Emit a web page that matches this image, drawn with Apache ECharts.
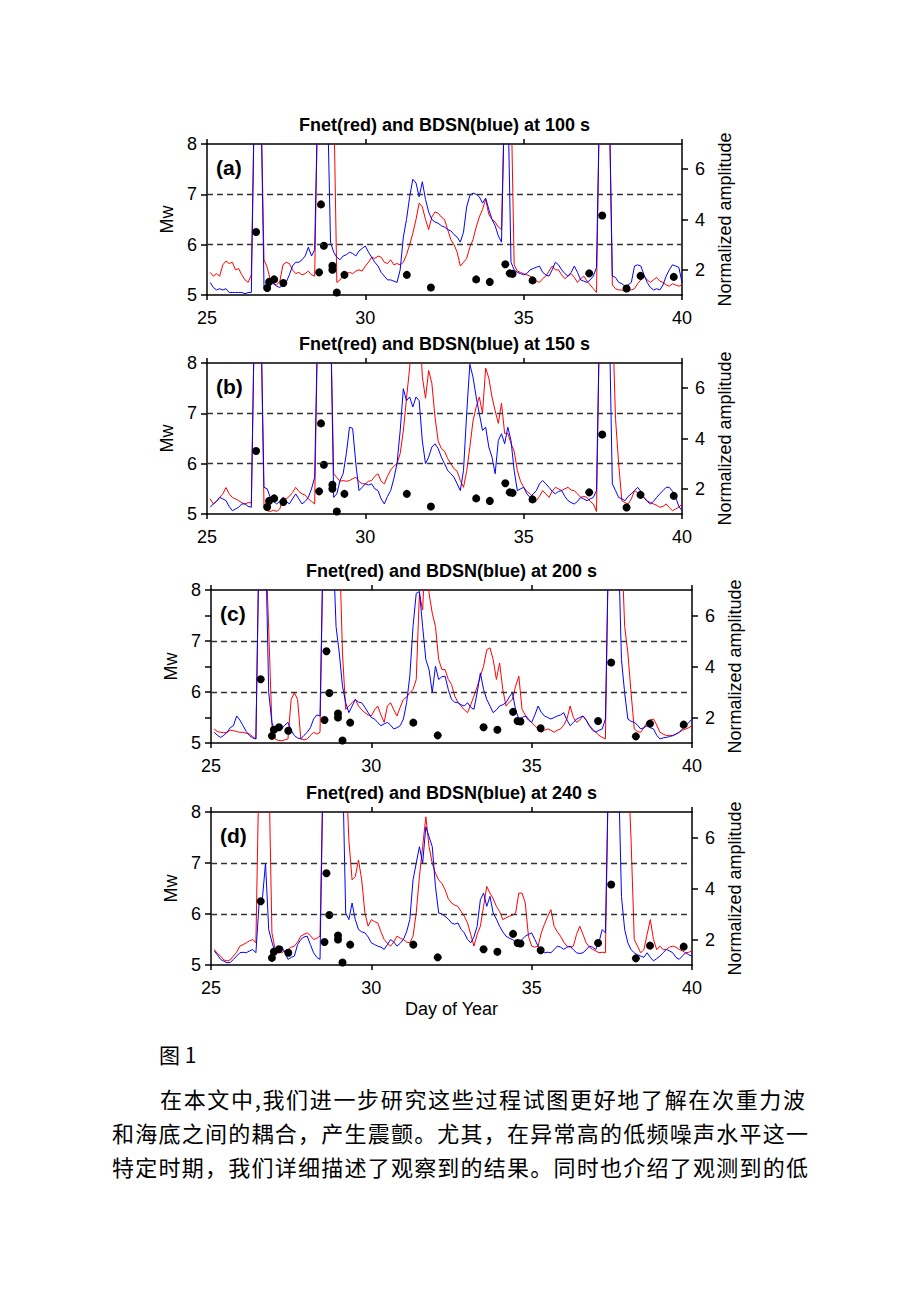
<!DOCTYPE html>
<html>
<head>
<meta charset="utf-8">
<title>Fnet and BDSN</title>
<script src="https://cdn.jsdelivr.net/npm/echarts@6.0.0/dist/echarts.min.js"></script>
<style>
  body { margin: 0; background: #fff; }
  #page { position: relative; width: 920px; height: 1302px; }
  #chart { position: absolute; left: 0; top: 0; width: 920px; height: 1302px; }
  .txt {
    position: absolute;
    font-family: "Noto Sans CJK SC", sans-serif;
    color: #000;
    white-space: nowrap;
    text-align: justify;
    text-align-last: justify;
  }
</style>
</head>
<body>
<div id="page">
  <div id="chart"></div>
  <div class="txt" style="left:159px;top:1040px;font-size:21px;line-height:28px;text-align-last:left;">图 1</div>
  <div class="txt" style="left:160px;top:1084px;width:645px;font-size:22px;line-height:28px;">在本文中,我们进一步研究这些过程试图更好地了解在次重力波</div>
  <div class="txt" style="left:112px;top:1118px;width:696px;font-size:22px;line-height:28px;">和海底之间的耦合，产生震颤。尤其，在异常高的低频噪声水平这一</div>
  <div class="txt" style="left:112px;top:1152px;width:696px;font-size:22px;line-height:28px;">特定时期，我们详细描述了观察到的结果。同时也介绍了观测到的低</div>
</div>
<script>
// earthquakes (day of year, Mw) - same in every panel
const quakeDay = [26.55, 26.9, 26.96, 27.12, 27.41, 28.54, 28.6, 28.69, 28.96, 28.96, 29.1, 29.34,
  31.31, 32.07, 33.5, 33.93, 34.42, 34.56, 34.65, 35.28, 37.07, 37.48, 38.25, 38.69, 39.74]
const quakeMw = [6.25, 5.14, 5.26, 5.31, 5.24, 5.45, 6.8, 5.98, 5.58, 5.5, 5.05, 5.4,
  5.4, 5.15, 5.31, 5.26, 5.61, 5.43, 5.42, 5.29, 5.43, 6.58, 5.13, 5.38, 5.36]

// normalized amplitude, one sample every 0.1 day from 25.0 to 40.0 (one row per day)
// 9 = off the top of the plot
const redA = [
  null, 1.9, 1.75, 1.85, 1.75, 2.2, 2.35, 2.25, 2.3, 2.0,
  2.05, 1.8, 1.6, 1.5, 1.8, 9, 9, 9, 2.4, 2.1,
  1.6, 1.45, 1.4, 1.55, 2.2, 2.3, 2.25, 2.0, 1.85, 1.9,
  1.8, 1.85, 1.95, 1.8, 1.75, 9, 9, 9, 9, 9,
  9, 1.5, 1.6, 1.8, 1.85, 1.9, 1.85, 1.95, 2.0, 1.95,
  2.15, 2.3, 2.5, 2.45, 2.55, 2.5, 2.3, 2.25, 2.4, 2.2,
  2.25, 2.2, 2.3, 2.6, 3.0, 3.45, 4.0, 4.65, 4.5, 4.0,
  3.6, 4.1, 4.3, 4.25, 4.1, 4.0, 3.6, 3.2, 3.0, 2.7,
  2.15, 2.3, 2.45, 2.9, 3.2, 3.7, 4.1, 4.4, 4.8, 4.2,
  4.0, 3.9, 3.7, 3.6, 9, 9, 9, 2.2, 1.95, 1.9,
  1.85, 1.8, 1.75, 1.65, 1.55, 1.5, 1.65, 1.75, 1.95, 2.15,
  2.0, 2.0, 1.8, 1.65, 1.75, 1.85, 1.7, 1.5, 1.65, 1.75,
  1.55, 1.4, 1.25, 1.1, 9, 9, 9, 9, 1.4, 1.25,
  1.2, 1.2, 1.15, 1.2, 1.2, 1.25, 1.45, 1.6, 1.75, 1.6,
  1.5, 1.6, 1.7, 1.55, 1.5, 1.4, 1.35, 1.45, 1.4, 1.35,
  1.4]
const blueA = [
  null, 1.5, 1.3, 1.2, 1.25, 1.2, 1.25, 1.1, 1.1, 1.1,
  1.1, 1.1, 1.05, 1.1, 1.1, 9, 9, 9, 1.3, 1.25,
  1.5, 1.45, 1.35, 1.3, 1.4, 1.5, 1.8, 2.15, 2.3, 2.3,
  2.4, 2.55, 2.9, 2.55, 2.8, 9, 9, 9, 9, 3.1,
  2.7, 2.5, 2.4, 2.55, 2.6, 2.7, 2.65, 2.55, 2.75, 2.85,
  2.95, 2.7, 2.5, 2.3, 2.15, 1.9, 1.75, 1.6, 1.6, 1.55,
  1.5, 2.0, 3.3, 4.0, 4.9, 5.6, 5.45, 4.9, 5.5, 4.8,
  4.3, 4.0, 3.9, 3.85, 3.75, 3.7, 3.6, 3.55, 3.4, 3.3,
  3.1, 3.5, 4.5, 4.95, 5.05, 5.0, 4.9, 4.65, 4.85, 4.4,
  4.0, 3.75, 3.35, 3.1, 9, 9, 2.3, 2.0, 1.9, 1.85,
  1.8, 1.85, 2.0, 2.05, 2.1, 2.15, 1.9, 1.8, 1.75, 2.0,
  2.3, 2.2, 2.0, 1.85, 1.75, 1.9, 2.15, 1.9, 1.6, 1.55,
  1.5, 1.6, 1.75, 2.1, 9, 9, 9, 9, 1.75, 1.7,
  1.5, 1.45, 1.35, 1.4, 1.5, 2.15, 2.2, 2.15, 1.8, 1.5,
  1.3, 1.2, 1.25, 1.2, 1.4, 1.75, 2.0, 2.2, 2.15, 2.1,
  1.5]
const redB = [
  null, 1.6, 1.4, 1.5, 1.66, 1.8, 2.05, 1.8, 1.66, 1.6,
  1.53, 1.45, 1.4, 1.45, 1.45, 9, 9, 9, 1.3, 1.13,
  1.1, 1.15, 1.1, 1.2, 1.66, 1.6, 1.7, 1.85, 2.06, 1.9,
  1.8, 1.75, 1.6, 1.5, 1.4, 9, 9, 9, 9, 9,
  2.6, 2.45, 2.3, 2.33, 2.3, 2.33, 2.4, 2.46, 2.3, 2.2,
  2.2, 2.3, 2.33, 2.5, 2.6, 2.3, 2.2, 2.5, 2.75, 2.9,
  3.0, 3.4, 4.3, 5.6, 6.8, 9, 9, 9, 6.45, 5.6,
  6.7, 6.2, 4.85, 3.9, 3.6, 3.5, 3.2, 3.0, 2.8, 2.7,
  2.33, 2.06, 2.7, 3.65, 4.7, 5.25, 5.65, 5.0, 6.8, 6.4,
  5.65, 5.1, 4.6, 5.4, 4.2, 4.2, 3.8, 3.5, 2.73, 2.3,
  2.06, 1.9, 1.8, 1.65, 1.53, 1.7, 1.93, 1.8, 1.66, 1.9,
  2.06, 2.0, 1.93, 2.0, 2.06, 1.95, 1.93, 1.8, 1.66, 1.7,
  1.66, 1.5, 1.4, 1.1, 9, 9, 9, 9, 9, 4.8,
  3.0, 1.53, 1.45, 1.4, 1.6, 1.93, 1.85, 1.8, 1.65, 1.53,
  1.45, 1.4, 1.35, 1.27, 1.3, 1.4, 1.25, 1.13, 1.2, 1.27,
  1.4]
const blueB = [
  null, 1.27, 1.4, 1.5, 1.66, 1.6, 1.53, 1.3, 1.13, 1.2,
  1.27, 1.4, 1.4, 1.3, 1.27, 9, 9, 9, 2.06, 2.0,
  1.66, 1.5, 1.4, 1.5, 1.66, 1.5, 1.4, 1.6, 1.8, 1.6,
  1.4, 1.5, 1.66, 2.0, 2.46, 9, 9, 9, 9, 9,
  1.66, 1.8, 2.33, 2.6, 3.4, 4.45, 4.4, 3.0, 1.93, 2.06,
  2.2, 2.15, 2.2, 2.0, 1.93, 1.6, 1.4, 1.7, 1.93, 2.4,
  3.0, 4.3, 5.98, 5.5, 5.65, 5.25, 5.65, 5.5, 3.9, 3.0,
  3.26, 3.66, 3.79, 3.6, 3.26, 3.0, 2.73, 2.6, 2.46, 2.2,
  1.93, 2.73, 4.98, 6.95, 6.44, 5.65, 4.98, 4.32, 4.45, 3.66,
  3.26, 2.6, 3.92, 4.19, 3.79, 4.45, 3.92, 2.73, 1.93, 2.0,
  2.06, 1.8, 1.66, 1.8, 1.93, 2.2, 2.33, 2.2, 2.06, 1.9,
  1.8, 1.9, 1.93, 1.7, 1.53, 1.45, 1.4, 1.5, 1.66, 1.6,
  1.53, 1.6, 1.66, 1.93, 9, 9, 9, 9, 2.2, 1.93,
  1.66, 1.6, 1.53, 1.7, 1.8, 1.93, 2.06, 1.9, 1.66, 1.5,
  1.4, 1.5, 1.66, 1.8, 1.93, 2.06, 2.06, 1.9, 1.66, 1.3,
  1.13]
const redC = [
  null, 1.55, 1.45, 1.42, 1.4, 1.42, 1.5, 1.48, 1.45, 1.42,
  1.42, 1.38, 1.35, 1.25, 1.16, 9, 9, 9, 5.44, 1.68,
  1.16, 1.1, 1.09, 1.12, 1.16, 2.71, 2.97, 2.71, 1.16, 1.12,
  1.16, 1.3, 1.42, 1.35, 1.42, 9, 9, 9, 9, 9,
  9, 4.53, 2.32, 2.45, 2.58, 2.71, 2.45, 2.3, 2.19, 2.1,
  2.06, 2.3, 2.45, 2.1, 1.81, 2.45, 2.58, 2.3, 2.06, 2.4,
  2.71, 2.8, 2.97, 3.1, 3.49, 6.87, 6.22, 9, 6.87, 6.09,
  5.57, 4.27, 3.88, 3.88, 3.49, 3.3, 2.84, 2.6, 2.45, 2.3,
  2.19, 2.5, 2.84, 3.2, 3.62, 4.01, 4.66, 4.73, 4.27, 3.49,
  4.14, 3.1, 2.45, 2.6, 2.71, 3.23, 3.62, 2.32, 2.1, 1.94,
  1.8, 1.68, 1.55, 1.42, 1.5, 1.55, 1.5, 1.42, 1.5, 1.55,
  1.7, 1.94, 2.45, 2.0, 1.81, 1.9, 2.06, 1.9, 1.68, 1.55,
  1.42, 1.3, 1.22, 1.16, 9, 9, 9, 9, 9, 5.57,
  4.53, 2.97, 1.55, 1.45, 1.42, 1.6, 1.81, 1.9, 1.94, 1.7,
  1.42, 1.35, 1.29, 1.3, 1.29, 1.35, 1.42, 1.5, 1.55, 1.6,
  1.68]
const blueC = [
  null, 1.42, 1.3, 1.22, 1.3, 1.42, 1.6, 1.68, 2.06, 1.9,
  1.68, 1.45, 1.29, 1.2, 1.16, 9, 9, 9, 2.97, 1.8,
  1.42, 1.5, 1.55, 1.7, 1.81, 1.5, 1.29, 1.2, 1.16, 1.3,
  1.42, 1.6, 1.94, 2.1, 2.06, 9, 9, 9, 9, 5.57,
  4.53, 3.23, 2.58, 2.19, 2.45, 2.71, 2.6, 2.58, 2.4, 2.19,
  2.0, 1.94, 1.8, 1.68, 1.75, 1.81, 1.7, 1.55, 1.6, 1.68,
  1.94, 2.58, 3.62, 5.57, 6.87, 6.94, 5.57, 4.27, 3.88, 2.97,
  4.01, 3.49, 3.6, 3.62, 3.1, 2.71, 2.6, 2.58, 2.5, 2.45,
  2.58, 2.4, 2.32, 2.97, 3.75, 3.1, 2.71, 2.45, 2.19, 2.3,
  2.45, 2.5, 2.58, 2.8, 2.97, 2.3, 1.94, 2.0, 2.06, 1.9,
  1.81, 2.1, 2.45, 2.2, 2.06, 2.0, 1.94, 2.0, 2.06, 2.1,
  2.19, 1.9, 1.68, 1.8, 1.94, 2.0, 2.06, 1.9, 1.68, 1.5,
  1.42, 1.5, 1.55, 1.94, 9, 9, 9, 9, 4.27, 2.97,
  1.94, 1.85, 1.81, 1.7, 1.55, 1.6, 1.68, 1.6, 1.55, 1.3,
  1.16, 1.2, 1.22, 1.25, 1.29, 1.35, 1.42, 1.55, 1.68, 1.8,
  1.94]
const redD = [
  null, 1.61, 1.45, 1.35, 1.2, 1.16, 1.2, 1.35, 1.5, 1.74,
  1.8, 1.87, 1.95, 2.0, 1.87, 9, 9, 9, 9, 2.26,
  1.61, 1.55, 1.48, 1.55, 1.61, 1.7, 1.74, 1.9, 2.13, 2.2,
  2.26, 2.15, 2.0, 2.05, 2.13, 9, 9, 9, 9, 9,
  9, 9, 9, 5.9, 4.34, 4.47, 5.12, 4.34, 3.04, 2.52,
  2.78, 2.7, 2.65, 2.3, 2.0, 1.85, 1.74, 1.9, 2.13, 2.05,
  2.0, 1.9, 1.87, 2.13, 3.04, 4.47, 5.64, 6.81, 5.64, 4.99,
  4.6, 4.34, 4.2, 3.95, 3.6, 3.43, 3.35, 3.3, 3.1, 2.91,
  2.65, 2.2, 1.74, 2.2, 2.52, 3.3, 4.08, 3.82, 3.6, 3.3,
  3.1, 2.78, 2.85, 2.91, 2.95, 3.04, 3.82, 3.82, 3.43, 2.13,
  1.74, 1.7, 1.74, 2.26, 2.6, 2.91, 3.17, 2.52, 2.3, 2.13,
  1.9, 1.74, 1.7, 1.74, 2.2, 2.52, 2.2, 1.87, 1.7, 1.61,
  1.55, 1.48, 1.5, 1.48, 9, 9, 9, 9, 9, 9,
  9, 5.9, 2.0, 1.74, 1.48, 1.6, 2.2, 2.78, 2.0, 1.6,
  1.74, 1.6, 1.61, 1.7, 1.74, 1.7, 1.61, 1.55, 1.48, 1.5,
  1.55]
const blueD = [
  null, 1.55, 1.4, 1.22, 1.15, 1.09, 1.1, 1.22, 1.35, 1.48,
  1.5, 1.48, 1.55, 1.61, 1.48, 3.43, 3.56, 4.99, 2.39, 1.9,
  1.48, 1.61, 1.74, 1.5, 1.22, 1.3, 1.35, 1.8, 2.0, 2.1,
  2.13, 1.8, 1.48, 1.3, 1.22, 9, 9, 9, 9, 9,
  9, 9, 3.04, 2.78, 3.43, 2.78, 2.39, 2.3, 2.26, 2.1,
  1.87, 1.8, 1.74, 1.7, 1.61, 1.8, 2.0, 1.9, 1.74, 1.85,
  2.0, 2.3, 2.78, 4.34, 4.99, 5.64, 4.99, 6.42, 6.03, 5.64,
  4.08, 3.04, 3.0, 2.91, 2.8, 2.65, 2.6, 2.65, 2.4, 2.26,
  2.0, 1.87, 2.1, 2.52, 3.56, 3.82, 3.3, 3.69, 3.04, 2.8,
  2.52, 2.3, 2.13, 2.05, 2.0, 1.9, 1.87, 2.0, 2.13, 2.2,
  2.26, 2.0, 1.74, 1.55, 1.48, 1.5, 1.48, 1.6, 1.74, 1.7,
  1.61, 1.7, 1.74, 1.6, 1.48, 1.45, 1.48, 1.6, 1.74, 1.7,
  1.61, 1.9, 2.39, 2.26, 9, 9, 9, 9, 3.69, 2.39,
  1.87, 1.6, 1.48, 1.4, 1.35, 1.3, 1.48, 1.3, 1.16, 1.25,
  1.35, 1.48, 1.61, 1.55, 1.48, 1.3, 1.22, 1.35, 1.48, 1.4,
  1.35]

const periods = ['100', '150', '200', '240']
const tags = ['(a)', '(b)', '(c)', '(d)']
const ampTicks = [2, 4, 6]
const mwTicks = [5, 6, 7, 8]
const mwTicksHalf = [5, 5.5, 6, 6.5, 7, 7.5, 8]
const mwLevels = [6, 7]

const days = []
for (let k = 250; k <= 400; k++) days.push(k / 10)

const panels = [
  { red: redA, blue: blueA, left: 207, top: 144, width: 475, height: 151, mwTicks: mwTicks },
  { red: redB, blue: blueB, left: 207, top: 363, width: 475, height: 151, mwTicks: mwTicks },
  { red: redC, blue: blueC, left: 211, top: 590, width: 481, height: 153, mwTicks: mwTicksHalf },
  { red: redD, blue: blueD, left: 211, top: 812, width: 481, height: 153, mwTicks: mwTicks }
]

const FONT = '"Liberation Sans", Arial, Helvetica, sans-serif'
const frame = { color: '#000', width: 1.5 }
const tickText = { fontFamily: FONT, fontSize: 18, color: '#000' }
const nameText = { fontFamily: FONT, fontSize: 18, color: '#000' }

const myChart = echarts.init(document.getElementById('chart'), null, { renderer: 'svg' })
const option = {
  animation: false,
  backgroundColor: '#fff',
  grid: [],
  xAxis: [],
  yAxis: [],
  series: [],
  graphic: []
}

panels.forEach((p, i) => {
  option.grid.push({ left: p.left, top: p.top, width: p.width, height: p.height })

  option.xAxis.push({
    gridIndex: i,
    type: 'value',
    position: 'bottom',
    min: 25,
    max: 40,
    interval: 5,
    axisLine: { onZero: false, lineStyle: frame },
    axisTick: { length: 5, lineStyle: frame },
    axisLabel: { ...tickText, margin: 14 },
    splitLine: { show: false },
    name: i === 3 ? 'Day of Year' : '',
    nameLocation: 'middle',
    nameGap: 35,
    nameTextStyle: nameText
  })
  option.xAxis.push({
    gridIndex: i,
    type: 'value',
    position: 'top',
    min: 25,
    max: 40,
    interval: 5,
    axisLine: { onZero: false, lineStyle: frame },
    axisTick: { length: 5, lineStyle: frame },
    axisLabel: { show: false },
    splitLine: { show: false }
  })
  option.yAxis.push({
    gridIndex: i,
    type: 'value',
    position: 'left',
    min: 5,
    max: 8,
    interval: 1,
    axisLine: { onZero: false, lineStyle: frame },
    axisTick: { length: 6, lineStyle: frame, customValues: p.mwTicks },
    axisLabel: { ...tickText, margin: 10, customValues: mwTicks },
    splitLine: { show: false },
    name: 'Mw',
    nameLocation: 'middle',
    nameGap: 29,
    nameTextStyle: nameText
  })
  option.yAxis.push({
    gridIndex: i,
    type: 'value',
    position: 'right',
    min: 1,
    max: 7,
    interval: 1,
    axisLine: { onZero: false, lineStyle: frame },
    axisTick: { length: 6, lineStyle: frame, customValues: ampTicks },
    axisLabel: { ...tickText, margin: 13, customValues: ampTicks },
    splitLine: { show: false },
    name: 'Normalized amplitude',
    nameLocation: 'middle',
    nameGap: 34,
    nameTextStyle: nameText
  })

  // dashed Mw 6 and 7 levels
  option.series.push({
    type: 'scatter',
    xAxisIndex: 2 * i,
    yAxisIndex: 2 * i,
    data: [],
    silent: true,
    z: 1,
    markLine: {
      silent: true,
      symbol: ['none', 'none'],
      label: { show: false },
      lineStyle: { color: '#333', width: 1.3, type: [6, 4] },
      data: mwLevels.map(v => ({ yAxis: v }))
    }
  })
  option.series.push({
    name: 'Fnet',
    type: 'line',
    xAxisIndex: 2 * i,
    yAxisIndex: 2 * i + 1,
    data: days.map((d, k) => [d, p.red[k]]),
    showSymbol: false,
    symbol: 'none',
    clip: true,
    silent: true,
    z: 2,
    lineStyle: { color: '#ff0000', width: 1 },
    itemStyle: { color: '#ff0000' }
  })
  option.series.push({
    name: 'BDSN',
    type: 'line',
    xAxisIndex: 2 * i,
    yAxisIndex: 2 * i + 1,
    data: days.map((d, k) => [d, p.blue[k]]),
    showSymbol: false,
    symbol: 'none',
    clip: true,
    silent: true,
    z: 3,
    lineStyle: { color: '#0000ff', width: 1 },
    itemStyle: { color: '#0000ff' }
  })
  option.series.push({
    name: 'Earthquakes',
    type: 'scatter',
    xAxisIndex: 2 * i,
    yAxisIndex: 2 * i,
    data: quakeDay.map((d, k) => [d, quakeMw[k]]),
    symbol: 'circle',
    symbolSize: 8,
    silent: true,
    z: 4,
    itemStyle: { color: '#000', opacity: 1 }
  })

  option.graphic.push({
    type: 'text',
    x: p.left + p.width / 2,
    y: p.top - 19,
    style: {
      text: 'Fnet(red) and BDSN(blue) at ' + periods[i] + ' s',
      font: 'bold 18px ' + FONT,
      fill: '#000',
      textAlign: 'center',
      textVerticalAlign: 'middle',
      align: 'center',
      verticalAlign: 'middle'
    }
  })
  option.graphic.push({
    type: 'text',
    x: p.left + 9,
    y: p.top + 23,
    z: 10,
    style: {
      text: tags[i],
      font: 'bold 21px ' + FONT,
      fill: '#000',
      textAlign: 'left',
      textVerticalAlign: 'middle',
      align: 'left',
      verticalAlign: 'middle'
    }
  })
})

myChart.setOption(option)
</script>
</body>
</html>
